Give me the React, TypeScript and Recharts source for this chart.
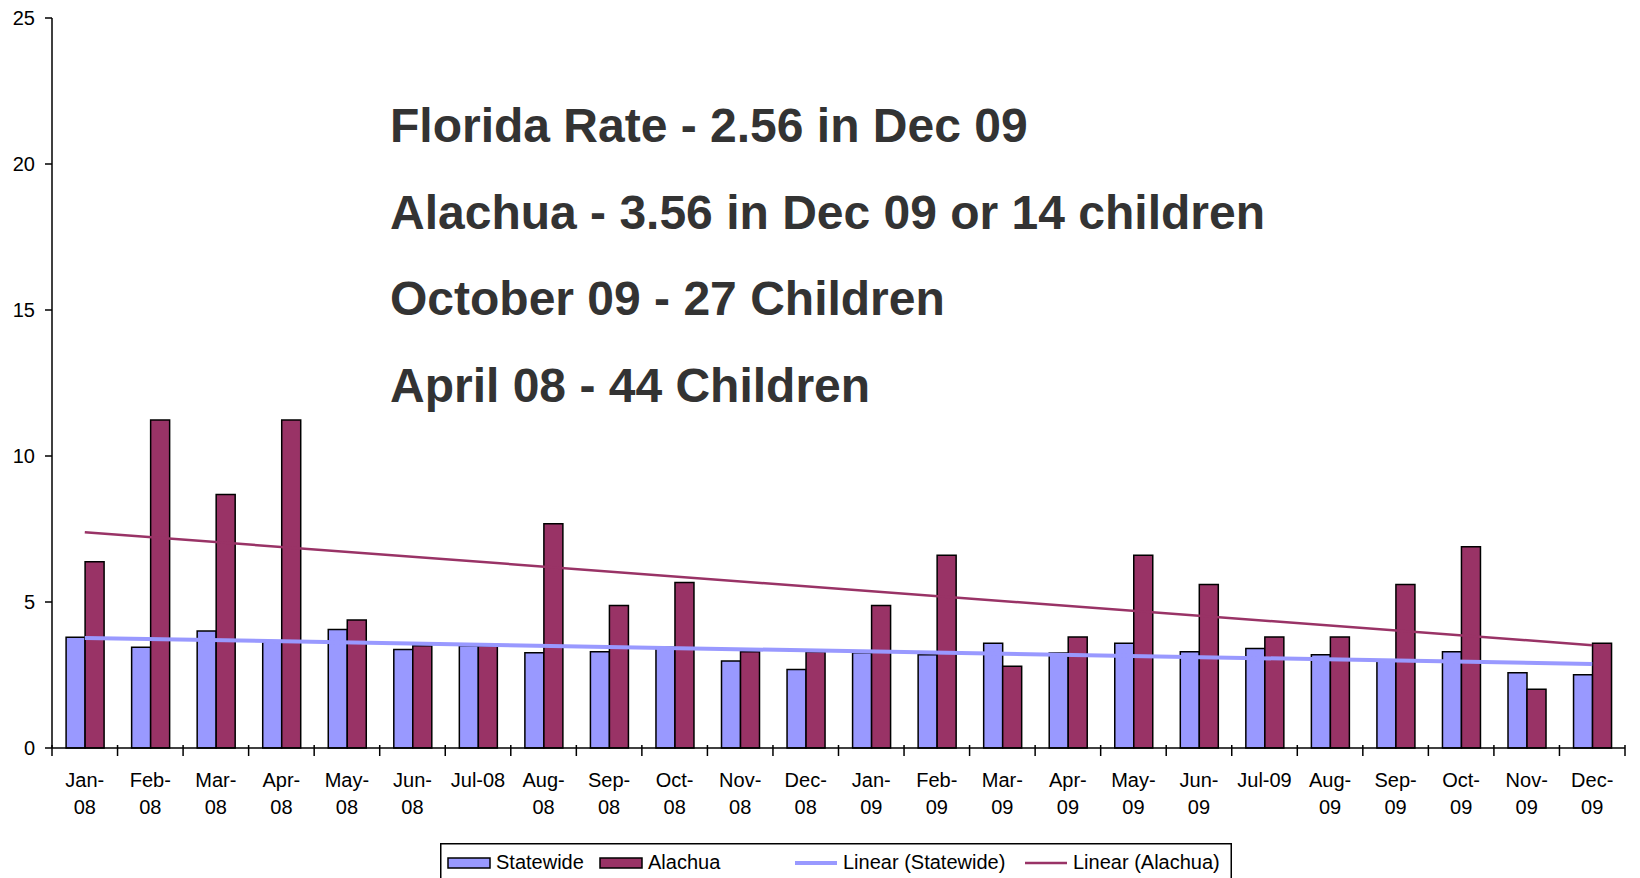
import React from "react";
import {
  ComposedChart,
  Bar,
  Line,
  XAxis,
  YAxis,
  Legend,
} from "recharts";

const MONTHS = [
  "Jan-08", "Feb-08", "Mar-08", "Apr-08", "May-08", "Jun-08",
  "Jul-08", "Aug-08", "Sep-08", "Oct-08", "Nov-08", "Dec-08",
  "Jan-09", "Feb-09", "Mar-09", "Apr-09", "May-09", "Jun-09",
  "Jul-09", "Aug-09", "Sep-09", "Oct-09", "Nov-09", "Dec-09",
];

const STATEWIDE = [
  3.79, 3.45, 4.01, 3.64, 4.06, 3.37, 3.5, 3.26, 3.3, 3.45, 2.98, 2.69,
  3.26, 3.19, 3.59, 3.25, 3.59, 3.3, 3.41, 3.19, 3.0, 3.3, 2.58, 2.51,
];

const ALACHUA = [
  6.38, 11.23, 8.68, 11.23, 4.38, 3.5, 3.5, 7.68, 4.88, 5.67, 3.3, 3.3,
  4.88, 6.6, 2.8, 3.8, 6.6, 5.6, 3.8, 3.8, 5.6, 6.89, 2.01, 3.59,
];

// trend line end points (first month, last month)
const TREND_STATEWIDE = [3.77, 2.88];
const TREND_ALACHUA = [7.39, 3.52];

const Y_TICKS = [0, 5, 10, 15, 20, 25];

const SERIES_NAMES = ["Statewide", "Alachua", "Linear (Statewide)", "Linear (Alachua)"];

const NOTES = [
  "Florida Rate - 2.56 in Dec 09",
  "Alachua - 3.56 in Dec 09 or 14 children",
  "October 09 - 27 Children",
  "April 08 - 44 Children",
];

const FONT = '"Liberation Sans", Arial, Helvetica, sans-serif';
const BLUE = "#9999FF";
const PLUM = "#993366";

const W = 1640;
const H = 878;
const MARGIN = { top: 18, right: 15, bottom: 50, left: 0 };
const Y_WIDTH = 52;
const BAND = (W - MARGIN.right - Y_WIDTH) / MONTHS.length;

const data = MONTHS.map((m, i) => ({
  month: m,
  statewide: STATEWIDE[i],
  alachua: ALACHUA[i],
  trendS: i === 0 ? TREND_STATEWIDE[0] : i === MONTHS.length - 1 ? TREND_STATEWIDE[1] : null,
  trendA: i === 0 ? TREND_ALACHUA[0] : i === MONTHS.length - 1 ? TREND_ALACHUA[1] : null,
}));

function MonthTick(props: any) {
  const { x, y, payload, index } = props;
  const label: string = payload.value;
  const lines = label.startsWith("Jul") ? [label] : [label.slice(0, 4), label.slice(4)];
  const left = x - BAND / 2;
  return (
    <g>
      <line x1={left} x2={left} y1={y - 3} y2={y + 8} stroke="#000" strokeWidth={1.5} />
      {index === MONTHS.length - 1 && (
        <line x1={x + BAND / 2} x2={x + BAND / 2} y1={y - 3} y2={y + 8} stroke="#000" strokeWidth={1.5} />
      )}
      <text x={x} y={y + 39} textAnchor="middle" fontSize={20} fontFamily={FONT} fill="#000">
        {lines.map((t, k) => (
          <tspan key={k} x={x} dy={k === 0 ? 0 : 27}>
            {t}
          </tspan>
        ))}
      </text>
    </g>
  );
}

const LEGEND_X = [8, 160, 355, 585];

function LegendBox(props: any) {
  const items = [...(props.payload || [])].sort(
    (a: any, b: any) => SERIES_NAMES.indexOf(a.value) - SERIES_NAMES.indexOf(b.value)
  );
  return (
    <svg width={792} height={40} style={{ display: "block" }}>
      <rect x={0.75} y={0.75} width={790.5} height={50} fill="#fff" stroke="#000" strokeWidth={1.5} />
      {items.map((it: any, i: number) => {
        const x0 = LEGEND_X[i];
        const isLine = it.type === "line";
        return (
          <g key={it.value}>
            {isLine ? (
              <line
                x1={x0}
                x2={x0 + 42}
                y1={20}
                y2={20}
                stroke={it.color}
                strokeWidth={it.value === SERIES_NAMES[2] ? 4 : 2.5}
              />
            ) : (
              <rect x={x0} y={15} width={42} height={10} fill={it.color} stroke="#000" strokeWidth={1.5} />
            )}
            <text x={x0 + 48} y={26} fontSize={20} fontFamily={FONT} fill="#000">
              {it.value}
            </text>
          </g>
        );
      })}
    </svg>
  );
}

export default function App() {
  return (
    <div
      style={{
        position: "absolute",
        left: 0,
        top: 0,
        width: W,
        height: H,
        overflow: "hidden",
        background: "#fff",
      }}
    >
      <ComposedChart
        width={W}
        height={H}
        data={data}
        margin={MARGIN}
        barCategoryGap="21.5%"
        barGap={0}
      >
        <XAxis
          dataKey="month"
          height={80}
          interval={0}
          tickSize={0}
          tickMargin={0}
          tickLine={false}
          axisLine={{ stroke: "#000", strokeWidth: 1.5 }}
          tick={<MonthTick />}
        />
        <YAxis
          width={Y_WIDTH}
          domain={[0, 25]}
          ticks={Y_TICKS}
          interval={0}
          tickSize={7}
          tickMargin={10}
          axisLine={{ stroke: "#000", strokeWidth: 1.5 }}
          tickLine={{ stroke: "#000", strokeWidth: 1.5 }}
          tick={{ fill: "#000", fontSize: 20, fontFamily: FONT }}
        />
        <Bar
          dataKey="statewide"
          name={SERIES_NAMES[0]}
          fill={BLUE}
          stroke="#000"
          strokeWidth={1.5}
          isAnimationActive={false}
        />
        <Bar
          dataKey="alachua"
          name={SERIES_NAMES[1]}
          fill={PLUM}
          stroke="#000"
          strokeWidth={1.5}
          isAnimationActive={false}
        />
        <Line
          dataKey="trendS"
          name={SERIES_NAMES[2]}
          type="linear"
          stroke={BLUE}
          strokeWidth={4}
          dot={false}
          activeDot={false}
          connectNulls
          isAnimationActive={false}
        />
        <Line
          dataKey="trendA"
          name={SERIES_NAMES[3]}
          type="linear"
          stroke={PLUM}
          strokeWidth={2.5}
          dot={false}
          activeDot={false}
          connectNulls
          isAnimationActive={false}
        />
        <Legend
          layout="horizontal"
          verticalAlign="middle"
          align="center"
          content={<LegendBox />}
          wrapperStyle={{ left: 440, top: 843, width: 792, height: 40 }}
        />
        <g>
          {NOTES.map((t, i) => (
            <text
              key={t}
              x={390}
              y={142 + i * 86.5}
              fontSize={48}
              fontWeight="bold"
              fontFamily={FONT}
              fill="#333333"
            >
              {t}
            </text>
          ))}
        </g>
      </ComposedChart>
    </div>
  );
}
